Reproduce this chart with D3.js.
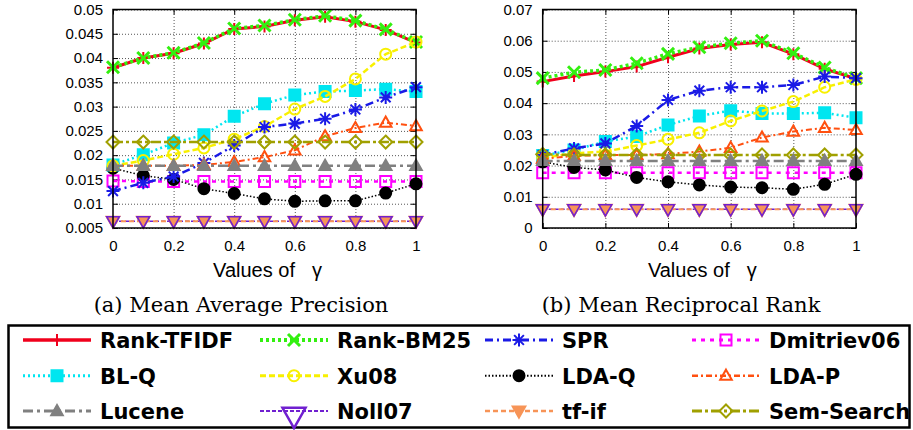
<!DOCTYPE html>
<html>
<head>
<meta charset="utf-8">
<script src="https://cdnjs.cloudflare.com/ajax/libs/d3/7.8.5/d3.min.js"></script>
<style>
  body { margin: 0; background: #fff; }
  svg { display: block; }
</style>
</head>
<body>
<svg id="chart" width="913" height="430"></svg>
<script>

  /*
    Data
  */

  const gammas = [0, 0.1, 0.2, 0.3, 0.4, 0.5, 0.6, 0.7, 0.8, 0.9, 1];

  const methods = ['Rank-TFIDF', 'Rank-BM25', 'SPR', 'Dmitriev06', 'BL-Q', 'Xu08',
    'LDA-Q', 'LDA-P', 'Lucene', 'Noll07', 'tf-if', 'Sem-Search'];

  // (a) mean average precision
  const mapTfidf = [0.0380, 0.0400, 0.0410, 0.0430, 0.0460, 0.0465, 0.0478, 0.0485, 0.0475, 0.0458, 0.0432];
  const mapBm25 = [0.0381, 0.0400, 0.0411, 0.0431, 0.0461, 0.0467, 0.0479, 0.0487, 0.0477, 0.0459, 0.0433];
  const mapSpr = [0.0126, 0.0143, 0.0156, 0.0184, 0.0220, 0.0258, 0.0265, 0.0275, 0.0294, 0.0319, 0.0340];
  const mapDmitriev = [0.0147, 0.0146, 0.0146, 0.0146, 0.0146, 0.0146, 0.0146, 0.0146, 0.0146, 0.0146, 0.0146];
  const mapBlq = [0.0180, 0.0201, 0.0225, 0.0242, 0.0280, 0.0306, 0.0324, 0.0331, 0.0333, 0.0336, 0.0331];
  const mapXu = [0.0178, 0.0189, 0.0202, 0.0215, 0.0233, 0.0259, 0.0295, 0.0321, 0.0357, 0.0408, 0.0433];
  const mapLdaq = [0.0173, 0.0158, 0.0150, 0.0131, 0.0121, 0.0110, 0.0105, 0.0106, 0.0106, 0.0122, 0.0141];
  const mapLdap = [0.0178, 0.0178, 0.0178, 0.0180, 0.0186, 0.0196, 0.0210, 0.0239, 0.0256, 0.0267, 0.0260];
  const mapLucene = [0.0178, 0.0178, 0.0178, 0.0178, 0.0178, 0.0178, 0.0178, 0.0178, 0.0178, 0.0178, 0.0178];
  const mapNoll = [0.0064, 0.0064, 0.0064, 0.0064, 0.0064, 0.0064, 0.0064, 0.0064, 0.0064, 0.0064, 0.0064];
  const mapTfif = [0.0064, 0.0064, 0.0064, 0.0064, 0.0064, 0.0064, 0.0064, 0.0064, 0.0064, 0.0064, 0.0064];
  const mapSem = [0.0227, 0.0227, 0.0227, 0.0227, 0.0227, 0.0227, 0.0227, 0.0227, 0.0227, 0.0227, 0.0227];

  // (b) mean reciprocal rank
  const mrrTfidf = [0.0469, 0.0487, 0.0501, 0.0517, 0.0547, 0.0575, 0.0588, 0.0595, 0.0557, 0.0510, 0.0478];
  const mrrBm25 = [0.0480, 0.0499, 0.0506, 0.0528, 0.0558, 0.0579, 0.0592, 0.0600, 0.0560, 0.0514, 0.0480];
  const mrrSpr = [0.0234, 0.0255, 0.0271, 0.0327, 0.0410, 0.0440, 0.0451, 0.0451, 0.0458, 0.0485, 0.0480];
  const mrrDmitriev = [0.0177, 0.0177, 0.0177, 0.0177, 0.0177, 0.0177, 0.0177, 0.0177, 0.0177, 0.0177, 0.0177];
  const mrrBlq = [0.0232, 0.0250, 0.0277, 0.0293, 0.0330, 0.0359, 0.0376, 0.0367, 0.0367, 0.0369, 0.0353];
  const mrrXu = [0.0225, 0.0239, 0.0245, 0.0264, 0.0284, 0.0305, 0.0343, 0.0375, 0.0405, 0.0451, 0.0476];
  const mrrLdaq = [0.0212, 0.0194, 0.0186, 0.0162, 0.0148, 0.0138, 0.0131, 0.0129, 0.0124, 0.0140, 0.0172];
  const mrrLdap = [0.0222, 0.0231, 0.0234, 0.0234, 0.0237, 0.0245, 0.0257, 0.0290, 0.0309, 0.0321, 0.0314];
  const mrrLucene = [0.0215, 0.0215, 0.0215, 0.0215, 0.0215, 0.0215, 0.0215, 0.0215, 0.0215, 0.0215, 0.0215];
  const mrrNoll = [0.0060, 0.0060, 0.0060, 0.0060, 0.0060, 0.0060, 0.0060, 0.0060, 0.0060, 0.0060, 0.0060];
  const mrrTfif = [0.0060, 0.0060, 0.0060, 0.0060, 0.0060, 0.0060, 0.0060, 0.0060, 0.0060, 0.0060, 0.0060];
  const mrrSem = [0.0236, 0.0234, 0.0234, 0.0234, 0.0234, 0.0234, 0.0234, 0.0234, 0.0234, 0.0234, 0.0234];

  const mapTicks = [0.005, 0.01, 0.015, 0.02, 0.025, 0.03, 0.035, 0.04, 0.045, 0.05];
  const mrrTicks = [0, 0.01, 0.02, 0.03, 0.04, 0.05, 0.06, 0.07];
  const gammaTicks = [0, 0.2, 0.4, 0.6, 0.8, 1];

  /*
    Styles, keyed by method name
  */

  const styles = {
    'Rank-TFIDF': { color: '#f0001c', dash: null, width: 3, marker: 'plus' },
    'Rank-BM25': { color: '#33f010', dash: '3,3', width: 3.5, marker: 'cross' },
    'SPR': { color: '#1a1ae6', dash: '8,4,2,4', width: 2.5, marker: 'star' },
    'Dmitriev06': { color: '#ff00ff', dash: '4,5', width: 2.5, marker: 'squareOpen' },
    'BL-Q': { color: '#00e6f0', dash: '2,3', width: 2.5, marker: 'square' },
    'Xu08': { color: '#f8f000', dash: '6,3', width: 2.5, marker: 'circleOpen' },
    'LDA-Q': { color: '#000000', dash: '1.5,2', width: 1.5, marker: 'circle' },
    'LDA-P': { color: '#ff5010', dash: '6,3,2,3', width: 2, marker: 'triUpOpen' },
    'Lucene': { color: '#808080', dash: '10,4,3,4', width: 2.5, marker: 'triUp' },
    'Noll07': { color: '#7020d0', dash: '4,2', width: 1.5, marker: 'triDownOpen' },
    'tf-if': { color: '#f79457', dash: '5,3', width: 2, marker: 'triDown' },
    'Sem-Search': { color: '#a0a000', dash: '10,3,3,3', width: 2.5, marker: 'diamondOpen' }
  };

  // draw order inside the plots (later is on top)
  const drawOrder = ['Noll07', 'tf-if', 'Rank-TFIDF', 'Rank-BM25', 'Dmitriev06', 'LDA-Q',
    'BL-Q', 'Xu08', 'SPR', 'LDA-P', 'Sem-Search', 'Lucene'];

  let svg = d3.select('#chart');

  /*
    Worker Functions
  */

  function markerPath(type, s) {
    let h = s / 2;
    switch (type) {
      case 'plus': return `M${-h},0H${h}M0,${-h}V${h}`;
      case 'cross': return `M${-h},${-h}L${h},${h}M${-h},${h}L${h},${-h}`;
      case 'star': return `M${-h},0H${h}M0,${-h}V${h}M${-h * 0.75},${-h * 0.75}L${h * 0.75},${h * 0.75}M${-h * 0.75},${h * 0.75}L${h * 0.75},${-h * 0.75}`;
      case 'square': case 'squareOpen': return `M${-h},${-h}H${h}V${h}H${-h}Z`;
      case 'circle': case 'circleOpen': return d3.symbol(d3.symbolCircle, Math.PI * h * h)();
      case 'triUp': case 'triUpOpen': return `M0,${-h * 1.1}L${h * 1.05},${h * 0.75}H${-h * 1.05}Z`;
      case 'triDown': case 'triDownOpen': return `M0,${h * 1.1}L${h * 1.05},${-h * 0.75}H${-h * 1.05}Z`;
      case 'diamondOpen': return `M0,${-h}L${h},0L0,${h}L${-h},0Z`;
    }
  }

  function markerSize(type) {
    if (type === 'plus') return 12;
    if (type === 'cross') return 12;
    if (type === 'star') return 13;
    if (type === 'circle' || type === 'circleOpen') return 11;
    if (type === 'diamondOpen') return 13;
    if (type === 'triDown' || type === 'triDownOpen') return 12;
    return 11;
  }

  function styleMarker(sel, st, size) {
    let open = /Open|plus|cross|star/.test(st.marker);
    sel.attr('d', markerPath(st.marker, size || markerSize(st.marker)))
      .attr('fill', open ? 'none' : st.color)
      .attr('stroke', st.color)
      .attr('stroke-width', st.marker === 'cross' ? 3 : (st.marker === 'triDownOpen' ? 1.5 : 2))
      .attr('stroke-linejoin', 'miter');
  }

  function drawPanel(opts) {
    let x = d3.scaleLinear().domain([0, 1]).range([opts.left, opts.right]);
    let y = d3.scaleLinear().domain(opts.domain).range([228, 9.5]);
    let g = svg.append('g');

    // dotted grid
    g.append('g')
      .attr('transform', `translate(${opts.left},0)`)
      .call(d3.axisLeft(y).tickValues(opts.ticks).tickSize(-(opts.right - opts.left)).tickFormat(''))
      .call(a => a.select('.domain').remove())
      .selectAll('line').attr('stroke', '#555').attr('stroke-dasharray', '1,2');
    g.append('g')
      .attr('transform', 'translate(0,228)')
      .call(d3.axisBottom(x).tickValues(gammaTicks.slice(1, -1)).tickSize(-(228 - 9.5)).tickFormat(''))
      .call(a => a.select('.domain').remove())
      .selectAll('line').attr('stroke', '#555').attr('stroke-dasharray', '1,2');

    // inward ticks on all four sides
    g.append('g').attr('transform', `translate(${opts.left},0)`)
      .call(d3.axisLeft(y).tickValues(opts.ticks).tickSize(-5).tickFormat(''));
    g.append('g').attr('transform', `translate(${opts.right},0)`)
      .call(d3.axisRight(y).tickValues(opts.ticks).tickSize(-5).tickFormat(''));
    g.append('g').attr('transform', 'translate(0,228)')
      .call(d3.axisBottom(x).tickValues(gammaTicks).tickSize(-5).tickFormat(''));
    g.append('g').attr('transform', 'translate(0,9.5)')
      .call(d3.axisTop(x).tickValues(gammaTicks).tickSize(-5).tickFormat(''));
    g.selectAll('.domain').remove();
    g.selectAll('.tick line').filter(function () { return !this.getAttribute('stroke-dasharray'); })
      .attr('stroke', '#000');

    // tick labels
    g.append('g')
      .attr('transform', `translate(${opts.left},0)`)
      .call(d3.axisLeft(y).tickValues(opts.ticks).tickSize(0).tickPadding(10)
        .tickFormat(d => String(+d.toFixed(3))))
      .call(a => a.select('.domain').remove())
      .selectAll('text').attr('font-family', 'Liberation Sans, Arial, sans-serif').attr('font-size', 15).attr('fill', '#000');
    g.append('g')
      .attr('transform', 'translate(0,228)')
      .call(d3.axisBottom(x).tickValues(gammaTicks).tickSize(0).tickPadding(12)
        .tickFormat(d => String(d)))
      .call(a => a.select('.domain').remove())
      .selectAll('text').attr('font-family', 'Liberation Sans, Arial, sans-serif').attr('font-size', 15).attr('fill', '#000');

    // series
    let line = d3.line().x((d, i) => x(gammas[i])).y(d => y(d));
    drawOrder.forEach(function (name) {
      let st = styles[name];
      let vals = opts.series[name];
      g.append('path')
        .attr('d', line(vals))
        .attr('fill', 'none')
        .attr('stroke', st.color)
        .attr('stroke-width', st.width)
        .attr('stroke-dasharray', st.dash);
      g.selectAll(null)
        .data(vals)
        .enter()
        .append('path')
        .attr('transform', (d, i) => `translate(${x(gammas[i])},${y(d)})`)
        .each(function () { styleMarker(d3.select(this), st); });
      if (name === 'tf-if') {
        // Noll07 outlines go back on top of the salmon triangles
        g.selectAll(null)
          .data(opts.series['Noll07'])
          .enter()
          .append('path')
          .attr('transform', (d, i) => `translate(${x(gammas[i])},${y(d)})`)
          .each(function () { styleMarker(d3.select(this), styles['Noll07']); });
      }
    });

    // frame
    g.append('rect')
      .attr('x', opts.left).attr('y', 9.5)
      .attr('width', opts.right - opts.left).attr('height', 228 - 9.5)
      .attr('fill', 'none').attr('stroke', '#000').attr('stroke-width', 1.5);

    // axis title and caption
    let cx = (opts.left + opts.right) / 2;
    let xt = g.append('text')
      .attr('x', cx + 3).attr('y', 277)
      .attr('text-anchor', 'middle')
      .attr('font-family', 'Liberation Sans, Arial, sans-serif')
      .attr('font-size', 20);
    xt.append('tspan').text('Values of');
    xt.append('tspan').attr('dx', 17).text('γ');

    g.append('text')
      .attr('x', opts.captionX).attr('y', 312)
      .attr('text-anchor', 'middle')
      .attr('font-family', 'DejaVu Serif, serif')
      .attr('font-size', 21)
      .text(opts.caption);
  }

  /*
    Panels
  */

  drawPanel({
    left: 113, right: 416, domain: [0.005, 0.05], ticks: mapTicks,
    caption: '(a) Mean Average Precision', captionX: 241,
    series: {
      'Rank-TFIDF': mapTfidf, 'Rank-BM25': mapBm25, 'SPR': mapSpr, 'Dmitriev06': mapDmitriev,
      'BL-Q': mapBlq, 'Xu08': mapXu, 'LDA-Q': mapLdaq, 'LDA-P': mapLdap,
      'Lucene': mapLucene, 'Noll07': mapNoll, 'tf-if': mapTfif, 'Sem-Search': mapSem
    }
  });

  drawPanel({
    left: 542.7, right: 856, domain: [0, 0.07], ticks: mrrTicks,
    caption: '(b) Mean Reciprocal Rank', captionX: 681,
    series: {
      'Rank-TFIDF': mrrTfidf, 'Rank-BM25': mrrBm25, 'SPR': mrrSpr, 'Dmitriev06': mrrDmitriev,
      'BL-Q': mrrBlq, 'Xu08': mrrXu, 'LDA-Q': mrrLdaq, 'LDA-P': mrrLdap,
      'Lucene': mrrLucene, 'Noll07': mrrNoll, 'tf-if': mrrTfif, 'Sem-Search': mrrSem
    }
  });

  /*
    Legend: 4 columns x 3 rows
  */

  const legendCols = [23, 260, 485, 692];
  const legendRows = [340, 375.7, 411];

  let legend = svg.append('g');
  legend.append('rect')
    .attr('x', 8.5).attr('y', 325.5).attr('width', 901).attr('height', 102)
    .attr('fill', 'none').attr('stroke', '#000').attr('stroke-width', 2.5);

  methods.forEach(function (name, k) {
    let st = styles[name];
    let lx = legendCols[k % 4];
    let ly = legendRows[Math.floor(k / 4)];
    legend.append('line')
      .attr('x1', lx).attr('x2', lx + 68).attr('y1', ly).attr('y2', ly)
      .attr('stroke', st.color).attr('stroke-width', st.width + 0.5)
      .attr('stroke-dasharray', st.dash);
    let big = name === 'Noll07';
    let m = legend.append('path').attr('transform', `translate(${lx + 34},${ly + (big ? 5 : 0)})`);
    styleMarker(m, st, big ? 22 : null);
    if (big) m.attr('stroke-width', 2.5);
    legend.append('text')
      .attr('x', lx + 77).attr('y', ly + 8)
      .attr('font-family', 'DejaVu Sans, sans-serif')
      .attr('font-weight', 'bold')
      .attr('font-size', 21)
      .text(name);
  });

</script>
</body>
</html>
